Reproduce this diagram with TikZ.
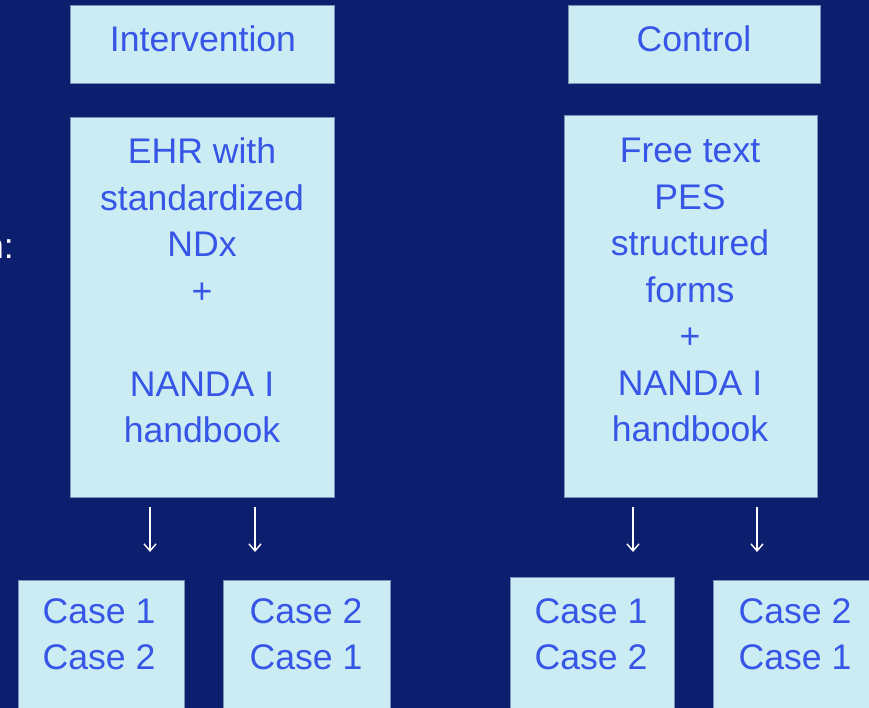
\documentclass[tikz,border=0pt]{standalone}
\usepackage{fontspec}
\setmainfont{Liberation Sans}
\usetikzlibrary{arrows.meta}
\definecolor{bgnavy}{RGB}{12,30,110}
\definecolor{boxfill}{RGB}{202,236,242}
\definecolor{boxline}{RGB}{120,145,185}
\definecolor{txtblue}{RGB}{55,85,230}
\tikzset{
  panel/.style={draw=boxline, line width=1pt, fill=boxfill},
  lbl/.style={text=txtblue, inner sep=0pt, align=center, font=\fontsize{35.6}{46.5}\selectfont},
  darr/.style={draw=white, line width=1.4pt, -{Straight Barb[length=7pt,width=12pt,line width=1.4pt]}}
}
\begin{document}
\begin{tikzpicture}[x=1pt,y=1pt]
\fill[bgnavy] (0,0) rectangle (869,708);
\useasboundingbox (0,0) rectangle (869,708);
% side text cut off at left
\node[text=white, inner sep=0pt, anchor=base east, font=\fontsize{35.6}{46.5}\selectfont] (side) at (14,449) {n:};
% header boxes
\node[panel, anchor=south west, minimum width=264pt, minimum height=78pt, inner sep=0pt] (inter) at (70,624) {};
\node[lbl, anchor=base] (intert) at (203,656) {Intervention};
\node[panel, anchor=south west, minimum width=252pt, minimum height=78pt, inner sep=0pt] (ctrl) at (568,624) {};
\node[lbl, anchor=base] (ctrlt) at (694,656) {Control};
% main boxes
\node[panel, anchor=south west, minimum width=264pt, minimum height=380pt, inner sep=0pt] (ehr) at (70,210) {};
\node[lbl, anchor=base] (ehrt) at (202,265) {EHR with\\standardized\\NDx\\+\\[46.5pt]NANDA I\\handbook};
\node[panel, anchor=south west, minimum width=253pt, minimum height=382pt, inner sep=0pt] (free) at (564,210) {};
\node[lbl, anchor=base] (freet) at (690,266) {Free text\\PES\\structured\\forms\\+\\NANDA I\\handbook};
% arrows
\coordinate (a1s) at (150,201); \coordinate (a1e) at (150,156);
\coordinate (a2s) at (255,201); \coordinate (a2e) at (255,156);
\coordinate (a3s) at (633,201); \coordinate (a3e) at (633,156);
\coordinate (a4s) at (757,201); \coordinate (a4e) at (757,156);
\draw[darr] (a1s) -- (a1e);
\draw[darr] (a2s) -- (a2e);
\draw[darr] (a3s) -- (a3e);
\draw[darr] (a4s) -- (a4e);
% case boxes
\node[panel, anchor=south west, minimum width=166pt, minimum height=150pt, inner sep=0pt] (c1) at (18,-23) {};
\node[lbl, anchor=base] (c1t) at (99,38) {Case 1\\Case 2};
\node[panel, anchor=south west, minimum width=167pt, minimum height=150pt, inner sep=0pt] (c2) at (223,-23) {};
\node[lbl, anchor=base] (c2t) at (306,38) {Case 2\\Case 1};
\node[panel, anchor=south west, minimum width=164pt, minimum height=153pt, inner sep=0pt] (c3) at (510,-23) {};
\node[lbl, anchor=base] (c3t) at (591,38) {Case 1\\Case 2};
\node[panel, anchor=south west, minimum width=170pt, minimum height=150pt, inner sep=0pt] (c4) at (713,-23) {};
\node[lbl, anchor=base] (c4t) at (795,38) {Case 2\\Case 1};
\end{tikzpicture}
\end{document}
